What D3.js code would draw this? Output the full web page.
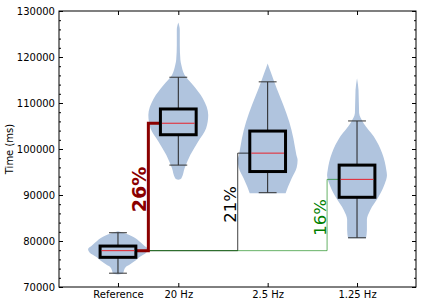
<!DOCTYPE html>
<html lang="en">
  <head>
    <meta charset="UTF-8" />
    <title>Violin + box plot</title>
    <script src="https://d3js.org/d3.v7.min.js"></script>
    <style>
      body { margin: 0; background: #fff; }
      text { font-family: "DejaVu Sans", sans-serif; }
    </style>
  </head>
  <body>
    <svg width="422" height="306"></svg>
    <script>
      // categories and where they sit on the x axis
      const categories = ["Reference", "20 Hz", "2.5 Hz", "1.25 Hz"];
      const positions = [1, 1.675, 2.675, 3.675];

      // box plot stats (ms)
      const whiskerHigh = [81800, 115600, 114600, 106100];
      const q3 = [78900, 108700, 103900, 96500];
      const medians = [77900, 105600, 99100, 93400];
      const q1 = [76450, 103100, 95100, 89500];
      const whiskerLow = [73000, 96500, 90500, 80700];

      // violin outlines: [value, relative width]
      const violinRef = [
        [82100, 0], [81800, 0.17], [80900, 0.5], [80000, 0.7], [79000, 0.87],
        [78200, 1.0], [77500, 0.95], [76500, 0.72], [75800, 0.6], [75000, 0.42],
        [74400, 0.27], [73600, 0.2], [73000, 0.17], [72700, 0]
      ];
      const violin20 = [
        [127500, 0], [125900, 0.05], [122600, 0.05], [119400, 0.07], [118300, 0.1],
        [116100, 0.21], [113900, 0.49], [111000, 0.82], [107400, 1.0], [104500, 0.93],
        [101600, 0.66], [98700, 0.4], [95800, 0.21], [93600, 0.1], [93300, 0]
      ];
      const violin25 = [
        [118600, 0], [116800, 0.1], [113200, 0.3], [109600, 0.52], [105900, 0.72],
        [102300, 0.86], [98700, 0.96], [97600, 1.0], [96000, 0.97], [93600, 0.8],
        [91800, 0.68], [90400, 0.6]
      ];
      const violin125 = [
        [115400, 0], [112800, 0.05], [107800, 0.07], [105600, 0.22], [102700, 0.56],
        [99100, 0.84], [95400, 0.98], [94300, 1.0], [92500, 0.93], [89600, 0.72],
        [86700, 0.44], [84600, 0.33], [82400, 0.33], [80600, 0.3]
      ];
      const violins = [violinRef, violin20, violin25, violin125];

      // speed-up annotations: target index, label
      const gainTargets = [1, 2, 3];
      const gainLabels = ["26%", "21%", "16%"];

      const yTicks = [70000, 80000, 90000, 100000, 110000, 120000, 130000];

      const svg = d3.select("svg");
      const marge = { left: 59, right: 416, top: 11, bottom: 287 };

      const x = d3.scaleLinear().domain([0.34, 4.335]).range([marge.left, marge.right]);
      const y = d3.scaleLinear().domain([70000, 130000]).range([marge.bottom, marge.top]);

      const boxW = 0.4;      // box width in x units
      const violinW = 0.67;  // violin max width in x units
      const px = (w) => x(w) - x(0);

      // violins
      const area = d3.area().curve(d3.curveMonotoneY);
      violins.forEach((v, i) => {
        const c = positions[i];
        area
          .y((d) => y(d[0]))
          .x0((d) => x(c) - (d[1] * px(violinW)) / 2)
          .x1((d) => x(c) + (d[1] * px(violinW)) / 2);
        svg.append("path").attr("d", area(v)).attr("fill", "#b0c4de");
      });

      // annotation lines
      const lineStyle = [
        { color: "#8b0000", width: 3, opacity: 1 },
        { color: "#000", width: 1, opacity: 0.75 },
        { color: "#008000", width: 1, opacity: 0.6 }
      ];
      const drawOrder = [1, 2, 0];
      drawOrder.forEach((k) => {
        const t = gainTargets[k];
        const xs = x(positions[0] + boxW / 2);
        const xv = x(positions[t]) - px(violinW) / 2;
        const xe = x(positions[t] - boxW / 2);
        const pts = [
          [xs, y(medians[0])], [xv, y(medians[0])],
          [xv, y(medians[t])], [xe, y(medians[t])]
        ];
        svg.append("path")
          .attr("d", d3.line()(pts))
          .attr("fill", "none")
          .attr("stroke", lineStyle[k].color)
          .attr("stroke-opacity", lineStyle[k].opacity)
          .attr("stroke-width", lineStyle[k].width);
      });

      // boxes
      const gs = svg.selectAll(".box").data(categories).enter().append("g");
      gs.append("line")
        .attr("x1", (d, i) => x(positions[i])).attr("x2", (d, i) => x(positions[i]))
        .attr("y1", (d, i) => y(whiskerHigh[i])).attr("y2", (d, i) => y(q3[i]))
        .attr("stroke", "#222");
      gs.append("line")
        .attr("x1", (d, i) => x(positions[i])).attr("x2", (d, i) => x(positions[i]))
        .attr("y1", (d, i) => y(q1[i])).attr("y2", (d, i) => y(whiskerLow[i]))
        .attr("stroke", "#222");
      [whiskerHigh, whiskerLow].forEach((arr) => {
        gs.append("line")
          .attr("x1", (d, i) => x(positions[i] - boxW / 4))
          .attr("x2", (d, i) => x(positions[i] + boxW / 4))
          .attr("y1", (d, i) => y(arr[i])).attr("y2", (d, i) => y(arr[i]))
          .attr("stroke", "#333");
      });
      gs.append("rect")
        .attr("x", (d, i) => x(positions[i] - boxW / 2))
        .attr("y", (d, i) => y(q3[i]))
        .attr("width", px(boxW))
        .attr("height", (d, i) => y(q1[i]) - y(q3[i]))
        .attr("fill", "none")
        .attr("stroke", "#000")
        .attr("stroke-width", 3);
      gs.append("line")
        .attr("x1", (d, i) => x(positions[i] - boxW / 2) + 1.5)
        .attr("x2", (d, i) => x(positions[i] + boxW / 2) - 1.5)
        .attr("y1", (d, i) => y(medians[i])).attr("y2", (d, i) => y(medians[i]))
        .attr("stroke", "#e8202a");

      // percentage labels
      const labelStyle = [
        { color: "#8b0000", size: 19, weight: "bold", dx: -2 },
        { color: "#000", size: 16.5, weight: "normal", dx: -2 },
        { color: "#008000", size: 16.5, weight: "normal", dx: -1.5 }
      ];
      gainLabels.forEach((lab, k) => {
        const t = gainTargets[k];
        const tx = x(positions[t]) - px(violinW) / 2 + labelStyle[k].dx;
        const ty = y((medians[0] + medians[t]) / 2) + 2.5;
        svg.append("text")
          .attr("transform", `translate(${tx},${ty}) rotate(-90)`)
          .attr("text-anchor", "middle")
          .attr("fill", labelStyle[k].color)
          .attr("font-size", labelStyle[k].size)
          .attr("font-weight", labelStyle[k].weight)
          .text(lab);
      });

      // axes (ticks point inward)
      const minor = d3.range(70000, 130001, 2000).filter((v) => v % 10000 !== 0);
      const styleAxis = (g) => {
        g.select(".domain").remove();
        g.selectAll("text").attr("font-size", 10).attr("fill", "#000")
          .attr("font-family", "DejaVu Sans, sans-serif");
      };
      svg.append("g").attr("transform", `translate(${marge.left},0)`)
        .call(d3.axisLeft(y).tickValues(yTicks).tickSize(-4).tickPadding(4).tickFormat(d3.format("d")))
        .call(styleAxis);
      svg.append("g").attr("transform", `translate(${marge.left},0)`)
        .call(d3.axisLeft(y).tickValues(minor).tickSize(-2).tickFormat(""))
        .call(styleAxis);
      svg.append("g").attr("transform", `translate(${marge.right},0)`)
        .call(d3.axisRight(y).tickValues(yTicks).tickSize(-4).tickFormat(""))
        .call(styleAxis);
      svg.append("g").attr("transform", `translate(${marge.right},0)`)
        .call(d3.axisRight(y).tickValues(minor).tickSize(-2).tickFormat(""))
        .call(styleAxis);
      svg.append("g").attr("transform", `translate(0,${marge.bottom})`)
        .call(d3.axisBottom(x).tickValues(positions).tickSize(-4).tickPadding(4)
          .tickFormat((d, i) => categories[i]))
        .call(styleAxis);
      svg.append("g").attr("transform", `translate(0,${marge.top})`)
        .call(d3.axisTop(x).tickValues(positions).tickSize(-4).tickFormat(""))
        .call(styleAxis);

      // frame
      svg.append("rect")
        .attr("x", marge.left).attr("y", marge.top)
        .attr("width", marge.right - marge.left).attr("height", marge.bottom - marge.top)
        .attr("fill", "none").attr("stroke", "#000");

      // y label
      svg.append("text")
        .attr("transform", `translate(13,${(marge.top + marge.bottom) / 2}) rotate(-90)`)
        .attr("text-anchor", "middle")
        .attr("font-size", 10)
        .text("Time (ms)");
    </script>
  </body>
</html>
